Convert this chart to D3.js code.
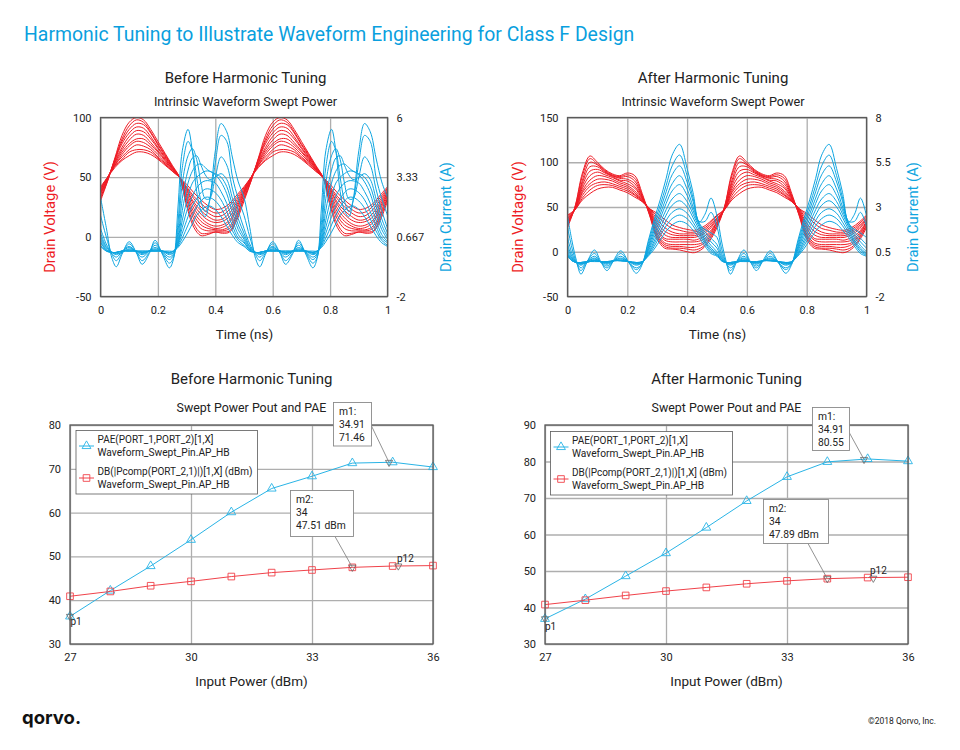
<!DOCTYPE html>
<html>
<head>
<meta charset="utf-8">
<script src="https://cdnjs.cloudflare.com/ajax/libs/d3/7.8.5/d3.min.js"></script>
<style>
    html, body { margin: 0; padding: 0; background: #fff; }
    svg { display: block; }
    text { font-family: Roboto, sans-serif; fill: #222; }
</style>
</head>
<body>
<div class="chart"></div>
<script>
// One 0.5 ns period of each waveform, the plots repeat it twice.
const voltageTimes = [0, 0.025, 0.05, 0.075, 0.1, 0.125, 0.15, 0.175, 0.2, 0.225, 0.25, 0.275, 0.3, 0.325, 0.35, 0.375, 0.4, 0.425, 0.45, 0.475];

const beforeVoltage = [
    [42, 50, 58, 64, 68, 71, 71, 69, 65, 60, 55, 50, 44, 37, 31, 26, 23, 24, 28, 35],
    [41, 50, 59, 65, 71, 73, 73, 71, 66, 61, 55, 50, 42, 34, 28, 23, 20, 21, 26, 33],
    [40, 50, 60, 67, 73, 77, 76, 73, 67, 62, 56, 50, 41, 32, 25, 20, 17, 18, 23, 31],
    [39, 50, 60, 69, 76, 80, 79, 75, 69, 63, 56, 50, 40, 29, 22, 17, 14, 15, 20, 29],
    [38, 49, 61, 71, 78, 82, 82, 77, 71, 64, 57, 50, 39, 27, 19, 14, 12, 13, 17, 27],
    [37, 49, 62, 73, 81, 86, 85, 79, 72, 65, 57, 50, 37, 24, 16, 11, 9, 10, 14, 25],
    [36, 49, 63, 75, 84, 89, 88, 82, 74, 66, 58, 50, 35, 21, 13, 9, 7, 8, 12, 23],
    [35, 48, 64, 78, 87, 92, 91, 84, 75, 67, 58, 50, 33, 18, 10, 7, 6, 6, 9, 20],
    [33, 48, 65, 80, 90, 95, 94, 87, 77, 68, 59, 50, 31, 15, 7, 5, 5, 5, 7, 18],
    [32, 47, 65, 82, 93, 98, 96, 88, 78, 69, 59, 50, 28, 11, 3, 3, 4, 4, 5, 16],
    [30, 47, 66, 85, 96, 100, 98, 90, 80, 70, 60, 50, 26, 8, 1, 2, 4, 3, 4, 14]
];

const afterVoltage = [
    [41, 47, 58, 65, 70, 72, 72, 69, 66, 61, 56, 48, 43, 36, 30, 27, 25, 24, 27, 33],
    [40, 47, 60, 69, 74, 75, 74, 71, 68, 63, 56, 48, 40, 32, 26, 24, 22, 22, 25, 31],
    [38, 47, 63, 73, 77, 78, 76, 73, 70, 64, 57, 48, 36, 27, 22, 20, 20, 20, 23, 29],
    [37, 47, 66, 76, 81, 81, 79, 75, 72, 66, 57, 47, 32, 23, 19, 18, 18, 18, 21, 27],
    [36, 47, 68, 80, 85, 84, 81, 77, 74, 68, 58, 46, 29, 19, 16, 16, 16, 16, 19, 25],
    [34, 48, 71, 85, 89, 86, 83, 79, 76, 71, 59, 45, 26, 15, 14, 14, 14, 13, 16, 22],
    [33, 48, 74, 90, 92, 88, 84, 80, 79, 73, 60, 44, 23, 13, 11, 11, 11, 11, 13, 20],
    [32, 49, 77, 95, 95, 89, 85, 82, 81, 76, 61, 43, 20, 10, 8, 8, 8, 8, 10, 18],
    [30, 49, 80, 100, 97, 90, 85, 83, 84, 79, 62, 42, 18, 8, 6, 6, 5, 5, 8, 16],
    [29, 50, 85, 104, 98, 91, 86, 84, 86, 82, 63, 41, 16, 6, 4, 4, 3, 2, 5, 14],
    [27, 50, 88, 107, 100, 92, 87, 85, 88, 85, 65, 40, 14, 4, 3, 2, 0, -1, 3, 12]
];

const beforeCurrentTimes = [0, 0.02, 0.04, 0.055, 0.075, 0.1, 0.125, 0.145, 0.17, 0.19, 0.215, 0.24, 0.255, 0.27, 0.285, 0.305, 0.32, 0.335, 0.35, 0.365, 0.38, 0.4, 0.42, 0.44, 0.46, 0.48];

const beforeCurrent = [
    [0.24, 0.03, -0.03, -0.03, 0.03, 0.03, 0.03, 0.03, 0.03, 0.03, 0.03, 0.03, 0.03, 0.19, 0.45, 0.88, 1.25, 1.63, 1.84, 2, 2.05, 1.89, 1.57, 1.15, 0.72, 0.4],
    [0.29, 0.03, -0.03, -0.03, 0.03, 0.03, 0.03, 0.03, 0.03, 0.03, 0.03, -0.03, 0.03, 0.24, 0.61, 1.2, 1.63, 2, 2.27, 2.43, 2.43, 2.27, 1.95, 1.47, 0.93, 0.51],
    [0.4, 0.08, -0.03, -0.03, 0.03, 0.03, 0.03, -0.03, 0.03, 0.03, 0.03, -0.03, 0.03, 0.29, 0.83, 1.57, 2.05, 2.37, 2.64, 2.8, 2.8, 2.64, 2.32, 1.79, 1.15, 0.61],
    [0.45, 0.08, -0.03, -0.03, 0.03, 0.08, 0.03, -0.03, 0.03, 0.08, 0.03, -0.03, 0.03, 0.35, 1.09, 2, 2.48, 2.85, 3.07, 3.17, 3.17, 3.07, 2.69, 2.16, 1.41, 0.77],
    [0.56, 0.13, -0.03, -0.03, 0.03, 0.08, 0.03, -0.03, 0.03, 0.08, 0.03, -0.08, -0.03, 0.4, 1.41, 2.48, 3.07, 3.33, 3.49, 3.6, 3.6, 3.44, 3.12, 2.59, 1.73, 0.99],
    [0.67, 0.19, -0.03, -0.08, -0.03, 0.13, 0.03, -0.08, 0.03, 0.13, 0.03, -0.13, -0.03, 0.51, 1.84, 3.07, 3.6, 3.87, 3.92, 3.76, 3.6, 3.49, 3.33, 2.91, 2.05, 1.2],
    [0.83, 0.24, -0.03, -0.13, 0, 0.19, 0, -0.13, 0.03, 0.19, 0, -0.24, -0.08, 0.67, 2.37, 3.65, 4.19, 4.29, 3.87, 3.44, 3.23, 3.33, 3.49, 3.23, 2.37, 1.47],
    [1.04, 0.35, -0.08, -0.24, 0, 0.24, -0.03, -0.24, 0.03, 0.29, -0.03, -0.35, -0.13, 0.93, 3.07, 4.29, 4.61, 4.13, 3.07, 2.37, 2.37, 3.33, 4.24, 3.87, 2.8, 1.84],
    [1.63, 0.67, -0.13, -0.4, -0.05, 0.35, -0.03, -0.4, -0.03, 0.4, -0.05, -0.51, -0.24, 1.31, 3.76, 4.93, 4.51, 3.33, 2.27, 1.79, 2.27, 3.97, 5.2, 4.93, 3.33, 2.37],
    [2.43, 1.09, -0.29, -0.67, -0.11, 0.45, -0.05, -0.56, -0.08, 0.51, -0.1, -0.72, -0.29, 2, 4.51, 5.47, 4.51, 2.69, 1.84, 1.57, 2.27, 4.51, 5.73, 5.36, 4.19, 3.12]
];

const afterCurrentTimes = [0, 0.015, 0.03, 0.045, 0.065, 0.09, 0.11, 0.132, 0.155, 0.178, 0.205, 0.23, 0.25, 0.27, 0.29, 0.31, 0.33, 0.35, 0.375, 0.4, 0.42, 0.44, 0.46, 0.48];

const afterCurrent = [
    [0.25, 0, -0.1, -0.1, -0.05, -0.05, -0.05, -0.05, 0, 0, -0.05, -0.1, -0.05, 0.25, 0.65, 1.15, 1.65, 2, 2.2, 2.05, 1.7, 1.3, 0.8, 0.4],
    [0.3, 0, -0.1, -0.1, -0.05, 0, -0.05, -0.05, 0, 0, -0.05, -0.1, -0.05, 0.3, 0.8, 1.4, 1.95, 2.35, 2.55, 2.35, 1.95, 1.45, 0.95, 0.5],
    [0.35, 0, -0.1, -0.1, -0.05, 0, -0.05, -0.1, 0, 0, -0.05, -0.1, -0.05, 0.35, 0.95, 1.6, 2.25, 2.7, 2.9, 2.65, 2.15, 1.6, 1.05, 0.6],
    [0.4, 0.05, -0.1, -0.15, -0.1, 0, -0.05, -0.1, 0, 0, -0.05, -0.15, -0.1, 0.4, 1.1, 1.85, 2.55, 3.1, 3.35, 3, 2.4, 1.75, 1.15, 0.7],
    [0.5, 0.1, -0.1, -0.15, -0.1, 0.05, -0.05, -0.1, 0, 0.05, -0.05, -0.15, -0.1, 0.5, 1.3, 2.1, 2.85, 3.45, 3.75, 3.3, 2.6, 1.9, 1.3, 0.85],
    [0.7, 0.15, -0.1, -0.2, -0.05, 0.1, -0.05, -0.15, 0, 0.1, -0.05, -0.2, -0.1, 0.6, 1.5, 2.35, 3.2, 3.9, 4.25, 3.65, 2.8, 2, 1.45, 1.05],
    [0.9, 0.25, -0.1, -0.25, -0.05, 0.15, -0.05, -0.2, 0, 0.15, -0.05, -0.25, -0.1, 0.7, 1.7, 2.6, 3.5, 4.3, 4.75, 4, 3, 2.1, 1.6, 1.25],
    [1.3, 0.4, -0.1, -0.4, -0.05, 0.25, -0.05, -0.3, 0, 0.25, -0.1, -0.4, -0.15, 0.8, 1.9, 2.85, 3.85, 4.8, 5.3, 4.4, 3.3, 2.1, 1.75, 1.55],
    [1.9, 0.7, -0.1, -0.55, -0.05, 0.4, -0.05, -0.4, 0, 0.4, -0.1, -0.5, -0.15, 0.95, 2.1, 3.1, 4.2, 5.3, 5.9, 4.75, 3.5, 2.2, 2.2, 2.7],
    [2.5, 1.1, 0, -0.75, -0.1, 0.6, 0, -0.55, 0.05, 0.55, -0.1, -0.7, -0.2, 1.1, 2.3, 3.4, 4.6, 5.9, 6.5, 5.15, 3.8, 2.15, 2.6, 3.5]
];

const inputPower = [27, 28, 29, 30, 31, 32, 33, 34, 35, 36];
const beforePae = [36.3, 42.2, 47.8, 53.8, 60.1, 65.5, 68.3, 71.3, 71.5, 70.4];
const beforePout = [40.9, 42, 43.3, 44.3, 45.4, 46.3, 46.9, 47.5, 47.8, 47.9];
const afterPae = [36.9, 42.3, 48.6, 54.9, 61.9, 69.2, 75.8, 79.9, 80.7, 80.1];
const afterPout = [40.8, 42, 43.3, 44.5, 45.5, 46.5, 47.3, 47.9, 48.2, 48.3];

const timeTicks = [0, 0.2, 0.4, 0.6, 0.8, 1];
const powerTicks = [27, 30, 33, 36];
const beforeVoltageTicks = [-50, 0, 50, 100];
const afterVoltageTicks = [-50, 0, 50, 100, 150];
const beforeCurrentTicks = [-2, 0.667, 3.33, 6];
const afterCurrentTicks = [-2, 0.5, 3, 5.5, 8];
const beforeOutputTicks = [30, 40, 50, 60, 70, 80];
const afterOutputTicks = [30, 40, 50, 60, 70, 80, 90];

const RED = "#ee1c25";
const BLUE = "#0ea5e0";
const CYAN = "#29b4e6";
const SOFT_RED = "#f0424a";
const FRAME = "#5a5a5a";
const GRID = "#aeaeae";

const svg = d3.select(".chart")
    .append("svg")
    .attr("width", 960)
    .attr("height", 750);

function label(parent, x, y, str, size, opts = {}) {
    const t = parent.append("text")
        .attr("x", x)
        .attr("y", y)
        .attr("font-size", size)
        .attr("text-anchor", opts.anchor || "middle")
        .text(str);
    if (opts.color) t.style("fill", opts.color);
    if (opts.rotate) t.attr("transform", `rotate(-90 ${x} ${y})`);
    return t;
}

// Gridlines and tick labels come from the d3 axes, the domain paths are dropped for a plain frame.
function drawAxis(g, axis, tx, ty, gridColor) {
    const a = g.append("g")
        .attr("transform", `translate(${tx},${ty})`)
        .call(axis);
    a.select(".domain").remove();
    a.selectAll("line").attr("stroke", gridColor).attr("stroke-width", 1.3);
    a.selectAll("text").attr("font-size", 11).style("fill", "#222");
    return a;
}

function drawFrame(g, box) {
    g.append("rect")
        .attr("x", box.left).attr("y", box.top)
        .attr("width", box.right - box.left).attr("height", box.bottom - box.top)
        .attr("fill", "none")
        .attr("stroke", FRAME)
        .attr("stroke-width", 1.3);
}

function waveformPanel(p) {
    const g = svg.append("g");
    const box = p.box;
    const x = d3.scaleLinear().domain([0, 1]).range([box.left, box.right]);
    const yV = d3.scaleLinear().domain(d3.extent(p.voltageTicks)).range([box.bottom, box.top]);
    const yI = d3.scaleLinear().domain(d3.extent(p.currentTicks)).range([box.bottom, box.top]);
    const h = box.bottom - box.top;
    const w = box.right - box.left;

    label(g, p.cx, 83, p.heading, 15);
    label(g, p.cx, 106, "Intrinsic Waveform Swept Power", 12.7);

    drawAxis(g, d3.axisBottom(x).tickValues(timeTicks).tickFormat(String)
        .tickSize(-h).tickPadding(10), 0, box.bottom, GRID);
    drawAxis(g, d3.axisLeft(yV).tickValues(p.voltageTicks).tickFormat(String)
        .tickSize(-w).tickPadding(9), box.left, 0, GRID);
    drawAxis(g, d3.axisRight(yI).tickValues(p.currentTicks).tickFormat(String)
        .tickSize(0).tickPadding(9), box.right, 0, GRID);

    const clipId = "clip-" + p.id;
    g.append("clipPath").attr("id", clipId).append("rect")
        .attr("x", box.left).attr("y", box.top).attr("width", w).attr("height", h);

    const plot = g.append("g").attr("clip-path", `url(#${clipId})`);

    // Both periods plus the wrap point, so the trace closes at t = 1.
    const repeat = (times, values) => {
        const pts = [];
        [0, 0.5].forEach(off => times.forEach((t, i) => pts.push([t + off, values[i]])));
        pts.push([1, values[0]]);
        return pts;
    };

    const lineV = d3.line().x(d => x(d[0])).y(d => yV(d[1])).curve(d3.curveCatmullRom.alpha(0.5));
    const lineI = d3.line().x(d => x(d[0])).y(d => yI(d[1])).curve(d3.curveCatmullRom.alpha(0.5));

    plot.selectAll("path.voltage")
        .data(p.voltage)
        .enter()
        .append("path")
        .attr("class", "voltage")
        .attr("d", d => lineV(repeat(voltageTimes, d)))
        .attr("fill", "none")
        .attr("stroke", RED)
        .attr("stroke-width", 1);

    plot.selectAll("path.current")
        .data(p.current)
        .enter()
        .append("path")
        .attr("class", "current")
        .attr("d", d => lineI(repeat(p.currentTimes, d)))
        .attr("fill", "none")
        .attr("stroke", BLUE)
        .attr("stroke-width", 1);

    drawFrame(g, box);

    label(g, (box.left + box.right) / 2 + 0.5, 339, "Time (ns)", 13.5);
    label(g, p.voltageLabelX, 217, "Drain Voltage (V)", 14.8, { rotate: true, color: RED });
    label(g, p.currentLabelX, 217, "Drain Current (A)", 14.8, { rotate: true, color: BLUE });
}

function powerPanel(p) {
    const g = svg.append("g");
    const box = p.box;
    const x = d3.scaleLinear().domain([27, 36]).range([box.left, box.right]);
    const y = d3.scaleLinear().domain(d3.extent(p.outputTicks)).range([box.bottom, box.top]);
    const h = box.bottom - box.top;
    const w = box.right - box.left;

    label(g, p.cx, 384, p.heading, 15);
    label(g, p.cx, 412, "Swept Power Pout and PAE", 12.4);

    drawAxis(g, d3.axisBottom(x).tickValues(powerTicks).tickSize(-h).tickPadding(9), 0, box.bottom, GRID);
    drawAxis(g, d3.axisLeft(y).tickValues(p.outputTicks).tickSize(-w).tickPadding(9), box.left, 0, GRID);

    const line = d3.line().x((d, i) => x(inputPower[i])).y(d => y(d));
    const triangle = d3.symbol().type(d3.symbolTriangle).size(34);
    const square = d3.symbol().type(d3.symbolSquare).size(44);

    g.append("path").attr("d", line(p.pae)).attr("fill", "none").attr("stroke", CYAN).attr("stroke-width", 1);
    g.append("path").attr("d", line(p.pout)).attr("fill", "none").attr("stroke", SOFT_RED).attr("stroke-width", 1);

    g.selectAll("path.pae-mark")
        .data(p.pae)
        .enter()
        .append("path")
        .attr("class", "pae-mark")
        .attr("transform", (d, i) => `translate(${x(inputPower[i])},${y(d)})`)
        .attr("d", triangle())
        .attr("fill", "none")
        .attr("stroke", CYAN)
        .attr("stroke-width", 0.9);

    g.selectAll("path.pout-mark")
        .data(p.pout)
        .enter()
        .append("path")
        .attr("class", "pout-mark")
        .attr("transform", (d, i) => `translate(${x(inputPower[i])},${y(d)})`)
        .attr("d", square())
        .attr("fill", "none")
        .attr("stroke", SOFT_RED)
        .attr("stroke-width", 0.9);

    drawFrame(g, box);

    // Marker readouts, gray inverted triangles on the traces.
    const pointer = d3.symbol().type(d3.symbolTriangle).size(22);
    g.selectAll("path.marker")
        .data(p.markers)
        .enter()
        .append("path")
        .attr("class", "marker")
        .attr("transform", d => `translate(${x(d[0])},${y(d[1])}) rotate(180)`)
        .attr("d", pointer())
        .attr("fill", "none")
        .attr("stroke", "#666")
        .attr("stroke-width", 0.8);

    p.markerLabels.forEach(m => label(g, m.x, m.y, m.text, 10, { anchor: "start" }));

    // Legend box
    const lg = p.legend;
    g.append("rect")
        .attr("x", lg.x).attr("y", lg.y).attr("width", lg.w).attr("height", lg.h)
        .attr("fill", "#fff").attr("stroke", FRAME).attr("stroke-width", 0.8);
    [[CYAN, triangle, 15.5, "PAE(PORT_1,PORT_2)[1,X]", 8.5, 21.5],
     [SOFT_RED, square, 47.5, "DB(|Pcomp(PORT_2,1)|)[1,X] (dBm)", 41, 54]].forEach(row => {
        const [color, sym, my, top, y1, y2] = row;
        g.append("line")
            .attr("x1", lg.x + 3).attr("x2", lg.x + 18)
            .attr("y1", lg.y + my).attr("y2", lg.y + my)
            .attr("stroke", color);
        g.append("path")
            .attr("transform", `translate(${lg.x + 10.5},${lg.y + my})`)
            .attr("d", sym())
            .attr("fill", "none").attr("stroke", color).attr("stroke-width", 0.9);
        label(g, lg.x + 21.5, lg.y + y1 + 3.5, top, 10, { anchor: "start" });
        label(g, lg.x + 21.5, lg.y + y2 + 3.5, "Waveform_Swept_Pin.AP_HB", 10.2, { anchor: "start" });
    });

    // Callouts
    p.callouts.forEach(c => {
        g.append("line")
            .attr("x1", c.from[0]).attr("y1", c.from[1])
            .attr("x2", x(c.at[0])).attr("y2", y(c.at[1]))
            .attr("stroke", "#777").attr("stroke-width", 0.8);
        g.append("rect")
            .attr("x", c.x).attr("y", c.y).attr("width", c.w).attr("height", c.h)
            .attr("fill", "#fff").attr("stroke", "#8a8a8a").attr("stroke-width", 0.9);
        c.lines.forEach((s, i) => {
            label(g, c.x + 5.5, c.y + 12.5 + i * 13.2, s, 10.3, { anchor: "start" });
        });
    });

    label(g, p.cx, 686, "Input Power (dBm)", 13.5);
}

label(svg, 24, 41, "Harmonic Tuning to Illustrate Waveform Engineering for Class F Design", 19.4, { anchor: "start", color: "#0a9fde" });

waveformPanel({
    id: "before",
    heading: "Before Harmonic Tuning",
    cx: 245.5,
    box: { left: 100.5, right: 387.5, top: 117.5, bottom: 296.5 },
    voltage: beforeVoltage,
    current: beforeCurrent,
    currentTimes: beforeCurrentTimes,
    voltageTicks: beforeVoltageTicks,
    currentTicks: beforeCurrentTicks,
    voltageLabelX: 55,
    currentLabelX: 451
});

waveformPanel({
    id: "after",
    heading: "After Harmonic Tuning",
    cx: 713,
    box: { left: 567.5, right: 866.5, top: 117.5, bottom: 296.5 },
    voltage: afterVoltage,
    current: afterCurrent,
    currentTimes: afterCurrentTimes,
    voltageTicks: afterVoltageTicks,
    currentTicks: afterCurrentTicks,
    voltageLabelX: 523,
    currentLabelX: 918
});

powerPanel({
    heading: "Before Harmonic Tuning",
    cx: 251.5,
    box: { left: 70, right: 433, top: 425, bottom: 644 },
    outputTicks: beforeOutputTicks,
    pae: beforePae,
    pout: beforePout,
    markers: [[27, 36.3], [34.91, 71.46], [34, 47.51], [35.14, 47.8]],
    markerLabels: [{ x: 70.5, y: 625, text: "p1" }, { x: 397, y: 561.5, text: "p12" }],
    legend: { x: 76, y: 430.5, w: 181.5, h: 63.5 },
    callouts: [
        { x: 333.5, y: 402.5, w: 38, h: 43.5, lines: ["m1:", "34.91", "71.46"], from: [371.5, 426], at: [34.91, 71.46] },
        { x: 290.5, y: 490.5, w: 63, h: 46, lines: ["m2:", "34", "47.51 dBm"], from: [335, 536.5], at: [34, 47.51] }
    ]
});

powerPanel({
    heading: "After Harmonic Tuning",
    cx: 726.5,
    box: { left: 545, right: 908, top: 425, bottom: 644 },
    outputTicks: afterOutputTicks,
    pae: afterPae,
    pout: afterPout,
    markers: [[27, 36.9], [34.91, 80.55], [34, 47.89], [35.14, 48]],
    markerLabels: [{ x: 545, y: 630, text: "p1" }, { x: 870, y: 573.5, text: "p12" }],
    legend: { x: 550.5, y: 431.5, w: 182, h: 63.5 },
    callouts: [
        { x: 812.5, y: 407.5, w: 37, h: 43, lines: ["m1:", "34.91", "80.55"], from: [849.5, 433], at: [34.91, 80.55] },
        { x: 763.5, y: 499.5, w: 65, h: 44, lines: ["m2:", "34", "47.89 dBm"], from: [808, 543.5], at: [34, 47.89] }
    ]
});

// Footer
label(svg, 22, 724, "qorvo.", 18.5, { anchor: "start" })
    .attr("font-weight", 700)
    .style("fill", "#111")
    .style("font-family", "Inter, sans-serif");
label(svg, 936, 724, "©2018 Qorvo, Inc.", 8.5, { anchor: "end" });
</script>
</body>
</html>
